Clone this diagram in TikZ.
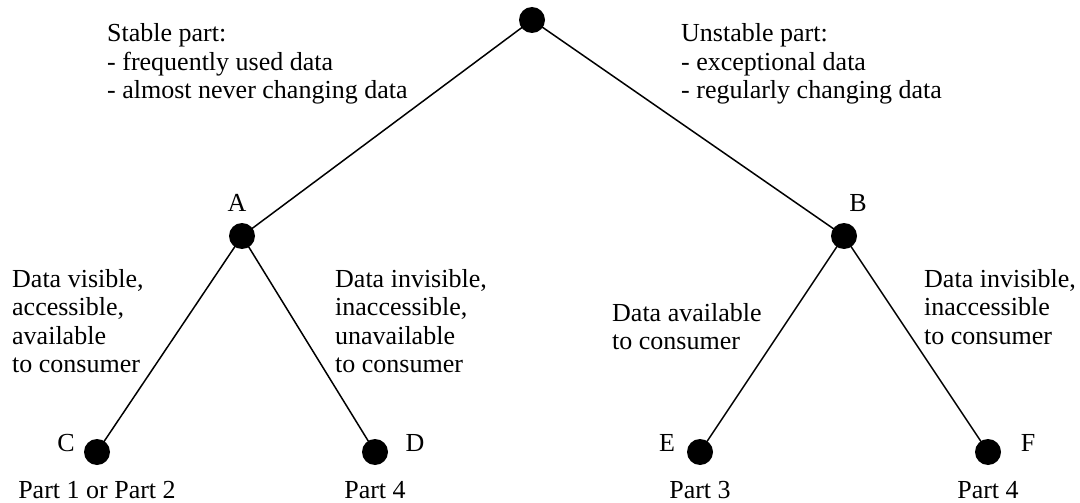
\documentclass[tikz,border=0pt]{standalone}
\usepackage{fontspec}
\setmainfont{Liberation Serif}
\begin{document}
\begin{tikzpicture}[x=1pt,y=-1pt,
  dot/.style={circle,fill=black,inner sep=0pt,minimum size=26pt},
  edge/.style={line width=1.5pt},
  txt/.style={inner sep=0pt,align=left,anchor=base west,font=\fontsize{26}{28.5}\selectfont},
  lbl/.style={inner sep=0pt,anchor=base,font=\fontsize{26}{28.5}\selectfont}]
\useasboundingbox (0,0) rectangle (1080,503);

% tree nodes
\node[dot] (root) at (532,20) {};
\node[dot] (A) at (242,236) {};
\node[dot] (B) at (844,236) {};
\node[dot] (C) at (97,452) {};
\node[dot] (D) at (375,452) {};
\node[dot] (E) at (700,452) {};
\node[dot] (F) at (988,452) {};

% branches
\draw[edge] (root.center) -- (A.center);
\draw[edge] (root.center) -- (B.center);
\draw[edge] (A.center) -- (C.center);
\draw[edge] (A.center) -- (D.center);
\draw[edge] (B.center) -- (E.center);
\draw[edge] (B.center) -- (F.center);

% node letters
\node[lbl] (labA) at (237,211) {A};
\node[lbl] (labB) at (858,211) {B};
\node[lbl] (labC) at (66,451) {C};
\node[lbl] (labD) at (415,451) {D};
\node[lbl] (labE) at (667,451) {E};
\node[lbl] (labF) at (1028,451) {F};

% leaf captions
\node[lbl] (partC) at (97,498) {Part 1 or Part 2};
\node[lbl] (partD) at (375,498) {Part 4};
\node[lbl] (partE) at (700,498) {Part 3};
\node[lbl] (partF) at (988,498) {Part 4};

% branch descriptions (anchored at the baseline of the last line)
\node[txt] (stable) at (107,99) {Stable part:\\- frequently used data\\- almost never changing data};
\node[txt] (unstable) at (681,99) {Unstable part:\\- exceptional data\\- regularly changing data};
\node[txt] (visible) at (12,372.5) {Data visible,\\accessible,\\available\\to consumer};
\node[txt] (invisA) at (335,372.5) {Data invisible,\\inaccessible,\\unavailable\\to consumer};
\node[txt] (avail) at (612,349.5) {Data available\\to consumer};
\node[txt] (invisB) at (924,344) {Data invisible,\\inaccessible\\to consumer};
\end{tikzpicture}
\end{document}
